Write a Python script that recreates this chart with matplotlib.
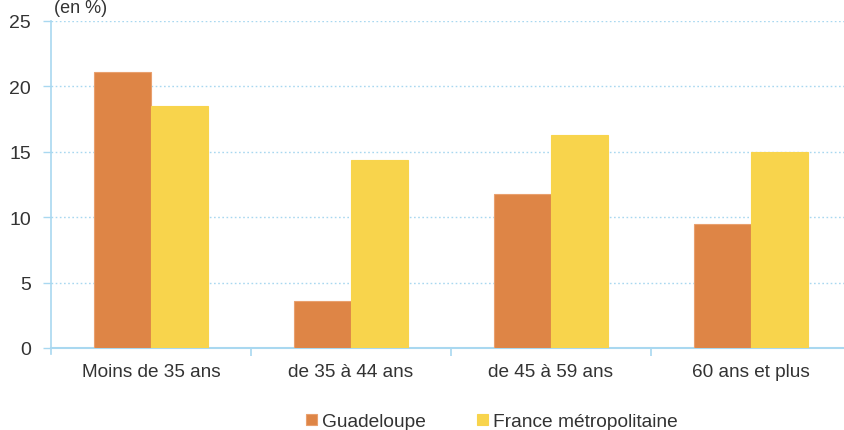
import matplotlib
matplotlib.use("Agg")
import matplotlib.pyplot as plt
import numpy as np

plt.rcParams['font.family'] = ['Liberation Sans', 'DejaVu Sans']

categories = ["Moins de 35 ans", "de 35 à 44 ans", "de 45 à 59 ans", "60 ans et plus"]
guadeloupe = [21.1, 3.6, 11.8, 9.5]
france = [18.5, 14.4, 16.3, 15.0]
series_names = ["Guadeloupe", "France métropolitaine"]
yticks = [0, 5, 10, 15, 20, 25]

c_orange = "#DE8546"
c_yellow = "#F8D44C"
c_axis = "#A9D8F0"
c_text = "#333333"

W, H = 844, 431
fig = plt.figure(figsize=(W/100, H/100), dpi=100)
ax = fig.add_axes([51/W, (H-349)/H, 800/W, 327/H])

x = np.arange(len(categories))
bw = 0.285
ax.bar(x - bw/2, guadeloupe, bw, color=c_orange, edgecolor="#E9A06E", linewidth=0.8, label=series_names[0], zorder=3)
ax.bar(x + bw/2, france, bw, color=c_yellow, edgecolor=c_yellow, linewidth=0.8, label=series_names[1], zorder=3)

ax.set_xlim(-0.5, len(categories) - 0.5)
ax.set_ylim(0, 25)
ax.set_yticks(yticks)
ax.set_yticklabels([str(v) for v in yticks], fontsize=14, color=c_text)
ax.yaxis.grid(True, linestyle=(0, (1.2, 1.8)), color=c_axis, linewidth=1.0, zorder=0)

ax.set_xticks(x)
ax.set_xticklabels(categories, fontsize=13.7, color=c_text)
ax.tick_params(axis='x', length=0, pad=11)
ax.set_xticks(np.arange(0.5, len(categories) - 0.5, 1), minor=True)
ax.tick_params(axis='x', which='minor', length=6, color=c_axis, width=1.2)
ax.tick_params(axis='y', length=6, color=c_axis, width=1.0, pad=8.5)

for s in ['top', 'right']:
    ax.spines[s].set_visible(False)
ax.spines['left'].set_color(c_axis)
ax.spines['bottom'].set_color(c_axis)
ax.spines['left'].set_linewidth(1.2)
ax.spines['bottom'].set_linewidth(1.5)
ax.spines['left'].set_bounds(-0.45, 25)

fig.text(54/W, 1.0, "(en %)", fontsize=13, color=c_text, ha='left', va='top')

leg = fig.legend(loc='center', bbox_to_anchor=(492/W, (H-423)/H), ncol=2, frameon=False,
                 fontsize=13.8, handlelength=0.55, handleheight=0.55, handletextpad=0.25,
                 columnspacing=2.7, labelcolor=c_text)

fig.savefig("out.png", dpi=100)
